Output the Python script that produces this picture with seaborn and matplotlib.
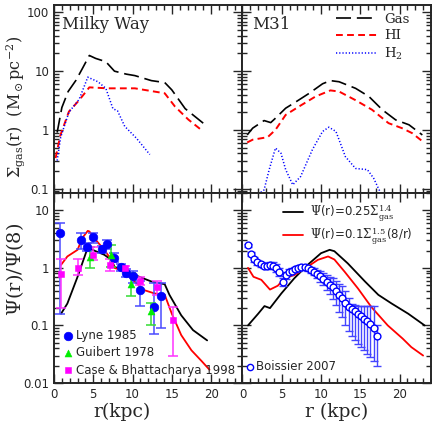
import numpy as np
import pandas as pd
import matplotlib
matplotlib.use("Agg")
import matplotlib.pyplot as plt
import matplotlib.ticker as mticker
import seaborn as sns

# ---- data ----
# Milky Way gas surface densities
mw_gas_r = [0.4, 1.0, 1.8, 2.8, 3.6, 4.5, 5.3, 6.6, 7.7, 9.2, 10.3, 12.4, 14.1, 15.0, 16.7, 19.0]
mw_gas = [0.9, 2.4, 4.5, 7.0, 11.0, 18.5, 16.5, 14.5, 10.0, 8.9, 8.4, 6.9, 6.4, 4.8, 2.3, 1.3]
mw_hi_r = [0.2, 0.8, 1.9, 3.2, 4.5, 6.8, 10.3, 14.1, 15.4, 17.1, 19.0]
mw_hi = [0.33, 0.8, 2.05, 3.2, 5.3, 5.1, 5.1, 4.2, 2.5, 1.5, 0.94]
mw_h2_r = [0.4, 0.85, 1.9, 3.2, 4.3, 5.6, 6.6, 7.5, 8.1, 9.0, 10.5, 12.2]
mw_h2 = [0.3, 0.75, 2.0, 3.3, 7.9, 6.6, 5.1, 2.3, 2.1, 1.15, 0.72, 0.38]

# M31 gas surface densities
m31_gas_r = [0.6, 1.3, 2.75, 3.6, 4.2, 5.5, 6.8, 8.5, 10.2, 11.2, 12.3, 14.4, 16.1, 17.8, 19.5, 21.2, 22.9]
m31_gas = [0.82, 1.07, 1.44, 1.33, 1.58, 2.34, 3.0, 4.2, 6.1, 6.9, 6.6, 5.1, 3.7, 2.2, 1.48, 1.22, 0.82]
m31_hi_r = [0.6, 1.3, 3.2, 4.2, 5.5, 7.2, 9.3, 11.2, 12.3, 14.4, 16.5, 18.6, 20.3, 21.6, 23.1]
m31_hi = [0.61, 0.68, 0.75, 1.0, 1.8, 2.5, 3.7, 4.7, 4.5, 3.2, 2.2, 1.3, 1.07, 0.88, 0.61]
m31_h2_r = [2.0, 2.75, 3.4, 4.2, 4.9, 5.5, 6.4, 7.4, 8.9, 10.2, 11.0, 11.9, 13.1, 14.4, 15.9, 16.7, 17.4, 17.9]
m31_h2 = [0.08, 0.095, 0.21, 0.49, 0.40, 0.21, 0.116, 0.16, 0.46, 0.94, 1.11, 0.94, 0.35, 0.22, 0.21, 0.15, 0.095, 0.075]

# Milky Way model curves Psi(r)/Psi(8)
mw_k14_r = [0.9, 1.7, 3.0, 4.3, 4.9, 6.4, 7.3, 7.7, 8.55, 10.3, 12.4, 14.1, 14.7, 16.2, 17.7, 19.5]
mw_k14 = [0.16, 0.24, 0.70, 2.26, 2.06, 1.69, 1.38, 1.05, 0.92, 0.75, 0.58, 0.52, 0.34, 0.15, 0.083, 0.055]
mw_dyn_r = [0.9, 1.7, 3.0, 3.6, 4.3, 4.5, 5.3, 6.4, 7.3, 7.7, 8.5, 9.8, 11.5, 12.8, 14.1, 15.0, 16.2, 17.5, 18.8, 19.8]
mw_dyn = [1.13, 1.58, 2.06, 3.3, 4.4, 4.3, 3.08, 2.06, 1.38, 1.0, 0.92, 0.66, 0.41, 0.36, 0.34, 0.16, 0.068, 0.037, 0.024, 0.017]

# Milky Way pulsar / SNR tracers
lyne_r = [0.75, 3.5, 4.2, 5.0, 6.1, 6.8, 7.6, 8.5, 9.2, 10.1, 11.0, 12.7, 13.6]
lyne_y = [4.0, 3.0, 2.35, 3.45, 2.1, 2.6, 1.5, 1.02, 0.8, 0.72, 0.41, 0.21, 0.33]
lyne_lo = [0.16, 2.1, 2.0, 2.7, 1.8, 2.1, 1.25, 0.9, 0.7, 0.55, 0.22, 0.07, 0.09]
lyne_hi = [6.0, 4.1, 2.7, 4.1, 2.4, 3.0, 1.8, 1.15, 0.95, 0.9, 0.6, 0.55, 0.55]
gui_r = [4.6, 7.2, 9.8, 12.3]
gui_y = [1.55, 1.7, 0.52, 0.18]
gui_lo = [1.0, 1.05, 0.32, 0.1]
gui_hi = [2.3, 2.45, 0.8, 0.25]
case_r = [0.9, 3.0, 5.0, 7.1, 9.0, 11.0, 13.1, 15.1]
case_y = [0.79, 1.0, 1.68, 1.13, 0.98, 0.6, 0.46, 0.124]
case_lo = [0.2, 0.75, 1.38, 0.9, 0.9, 0.5, 0.34, 0.03]
case_hi = [1.4, 1.45, 2.3, 1.45, 1.1, 0.7, 0.6, 0.21]

# M31 model curves
m31_k14_r = [0.7, 2.0, 2.8, 3.5, 4.95, 6.6, 8.3, 10.0, 11.1, 11.7, 13.4, 15.6, 17.3, 19.0, 21.1, 23.2]
m31_k14 = [0.10, 0.16, 0.217, 0.2, 0.36, 0.66, 1.13, 1.8, 2.06, 1.95, 1.2, 0.58, 0.34, 0.24, 0.16, 0.10]
m31_dyn_r = [0.7, 1.4, 2.4, 3.5, 4.5, 5.35, 6.6, 8.3, 9.6, 10.9, 11.7, 13.0, 14.7, 16.4, 18.5, 20.4, 21.5, 23.0]
m31_dyn = [1.0, 0.7, 0.62, 0.42, 0.49, 0.66, 0.75, 1.05, 1.38, 1.58, 1.4, 0.86, 0.44, 0.21, 0.10, 0.059, 0.042, 0.030]

# Boissier 2007 M31 star formation profile
bo_r = [0.7, 1.1, 1.5, 1.9, 2.3, 2.7, 3.1, 3.5, 3.9, 4.3, 4.7, 5.1, 5.5, 5.9, 6.3, 6.7, 7.1,
        7.5, 7.9, 8.3, 8.7, 9.1, 9.5, 9.9, 10.3, 10.7, 11.1, 11.5, 11.9, 12.3, 12.7, 13.1,
        13.5, 13.9, 14.3, 14.7, 15.1, 15.5, 15.9, 16.3, 16.7, 17.1]
bo_y = [2.45, 1.75, 1.40, 1.25, 1.15, 1.10, 1.08, 1.14, 1.10, 1.00, 0.85, 0.56, 0.74, 0.84, 0.90, 0.95, 0.99,
        1.02, 1.02, 0.98, 0.92, 0.86, 0.79, 0.72, 0.65, 0.58, 0.51, 0.46, 0.40, 0.34, 0.30, 0.25,
        0.21, 0.19, 0.175, 0.16, 0.145, 0.13, 0.118, 0.105, 0.09, 0.066]
bo_lo = [2.3, 1.62, 1.28, 1.12, 1.02, 0.98, 0.95, 1.0, 0.96, 0.86, 0.72, 0.48, 0.64, 0.74, 0.80, 0.85, 0.89,
         0.92, 0.92, 0.88, 0.82, 0.75, 0.67, 0.58, 0.50, 0.42, 0.35, 0.29, 0.23, 0.17, 0.14, 0.10,
         0.08, 0.065, 0.055, 0.048, 0.042, 0.037, 0.032, 0.028, 0.024, 0.02]
bo_hi = [2.6, 1.9, 1.52, 1.38, 1.28, 1.24, 1.22, 1.28, 1.25, 1.15, 0.98, 0.66, 0.85, 0.95, 1.0, 1.05, 1.09,
         1.12, 1.12, 1.08, 1.03, 0.98, 0.92, 0.87, 0.82, 0.76, 0.70, 0.66, 0.60, 0.52, 0.48, 0.40,
         0.30, 0.24, 0.23, 0.22, 0.22, 0.22, 0.22, 0.22, 0.22, 0.10]

sns.set_style("ticks")
plt.rcParams['font.family'] = ['DejaVu Serif']
plt.rcParams['mathtext.fontset'] = 'dejavuserif'

fig = plt.figure(figsize=(4.32, 4.24), dpi=100)
W = 0.4363
ax_tl = fig.add_axes([0.125, 0.5448, W, 0.4434])
ax_tr = fig.add_axes([0.5613, 0.5448, W, 0.4434])
ax_bl = fig.add_axes([0.125, 0.0967, W, 0.4481])
ax_br = fig.add_axes([0.5613, 0.0967, W, 0.4481])

# ---- top panels: gas profiles ----
for ax, rg, g, rh, h, r2, h2 in [(ax_tl, mw_gas_r, mw_gas, mw_hi_r, mw_hi, mw_h2_r, mw_h2),
                                  (ax_tr, m31_gas_r, m31_gas, m31_hi_r, m31_hi, m31_h2_r, m31_h2)]:
    sns.lineplot(x=rg, y=g, ax=ax, color='black', lw=1.2, label='Gas', linestyle=(0, (9, 3.5)))
    sns.lineplot(x=rh, y=h, ax=ax, color='red', lw=1.4, label='HI', linestyle=(0, (3.5, 2.2)))
    sns.lineplot(x=r2, y=h2, ax=ax, color='blue', lw=1.1, label='H$_2$', linestyle=(0, (0.8, 1.3)))
    ax.set_ylim(0.084, 134)

ax_tl.get_legend().remove()
ax_tr.legend(loc='upper left', bbox_to_anchor=(0.47, 0.985), frameon=False, handlelength=3.1,
             handletextpad=0.5, labelspacing=0.25, fontsize=9.5, borderaxespad=0.0)

ax_tl.text(0.04, 0.94, 'Milky Way', transform=ax_tl.transAxes, fontsize=12, va='top')
ax_tr.text(0.05, 0.94, 'M31', transform=ax_tr.transAxes, fontsize=12, va='top')

# ---- bottom-left: Milky Way SFR ----
ax = ax_bl
sns.lineplot(x=mw_k14_r, y=mw_k14, ax=ax, color='black', lw=1.3)
sns.lineplot(x=mw_dyn_r, y=mw_dyn, ax=ax, color='red', lw=1.3)
for r, y, lo, hi, c in [(lyne_r, lyne_y, lyne_lo, lyne_hi, '#4a4aff'),
                        (gui_r, gui_y, gui_lo, gui_hi, '#33dd33'),
                        (case_r, case_y, case_lo, case_hi, '#ff33ff')]:
    yerr = [np.array(y) - np.array(lo), np.array(hi) - np.array(y)]
    ax.errorbar(r, y, yerr=yerr, fmt='none', ecolor=c, elinewidth=1.1, capsize=3.5, capthick=1.1)
sns.scatterplot(x=lyne_r, y=lyne_y, ax=ax, color='blue', marker='o', s=38, edgecolor='blue',
                label='Lyne 1985', zorder=5)
sns.scatterplot(x=gui_r, y=gui_y, ax=ax, color='#00ee00', marker='^', s=25, edgecolor='#00ee00',
                label='Guibert 1978', zorder=5)
sns.scatterplot(x=case_r, y=case_y, ax=ax, color='magenta', marker='s', s=25, edgecolor='magenta',
                label='Case & Bhattacharya 1998', zorder=5)
ax.legend(loc='lower left', frameon=False, handletextpad=0.1, labelspacing=0.35,
          borderaxespad=0.15, handlelength=1.2, prop={'family': 'DejaVu Sans', 'size': 8.5})

# ---- bottom-right: M31 SFR ----
ax = ax_br
sns.lineplot(x=m31_k14_r, y=m31_k14, ax=ax, color='black', lw=1.3,
             label=r'$\Psi$(r)=0.25$\Sigma_{\rm gas}^{1.4}$')
sns.lineplot(x=m31_dyn_r, y=m31_dyn, ax=ax, color='red', lw=1.3,
             label=r'$\Psi$(r)=0.1$\Sigma_{\rm gas}^{1.5}$(8/r)')
yerr = [np.array(bo_y) - np.array(bo_lo), np.array(bo_hi) - np.array(bo_y)]
ax.errorbar(bo_r, bo_y, yerr=yerr, fmt='none', ecolor='#4444ff', elinewidth=1.0, capsize=3, capthick=1.0)
bo = pd.DataFrame({'r': bo_r, 'y': bo_y})
sns.scatterplot(data=bo, x='r', y='y', ax=ax, marker='o', s=24, facecolor='white',
                edgecolor='blue', linewidth=1.0, zorder=5)
h, l = ax.get_legend_handles_labels()
ax.legend(h[:2], l[:2], loc='upper left', bbox_to_anchor=(0.19, 0.975), frameon=False,
          handlelength=1.7, handletextpad=0.6, labelspacing=0.15, borderaxespad=0.0,
          prop={'family': 'DejaVu Sans', 'size': 8.5})
ax.text(0.072, 0.019, 'Boissier 2007', transform=ax.get_yaxis_transform(), fontsize=8.5,
        family='DejaVu Sans', va='center')
ax.plot([0.95], [0.019], 'o', ms=4.5, mfc='white', mec='blue', mew=1.0, clip_on=False)

for a in (ax_bl, ax_br):
    a.set_ylim(0.01, 20)

# ---- axes styling ----
fmt = mticker.FuncFormatter(lambda v, p: f"{v:g}")
for a in (ax_tl, ax_tr, ax_bl, ax_br):
    a.set_yscale('log')
    a.set_xlim(0, 24)
    a.xaxis.set_major_locator(mticker.MultipleLocator(5))
    a.xaxis.set_minor_locator(mticker.MultipleLocator(1))
    a.yaxis.set_major_locator(mticker.LogLocator(base=10))
    a.yaxis.set_minor_locator(mticker.LogLocator(base=10, subs=np.arange(2, 10)))
    a.yaxis.set_major_formatter(fmt)
    a.yaxis.set_minor_formatter(mticker.NullFormatter())
    a.tick_params(which='both', direction='in', top=True, right=True, labelfontfamily='DejaVu Sans',
                  labelsize=8.5, width=1.0)
    a.tick_params(which='major', length=6.5)
    a.tick_params(which='minor', length=3.5)
    for s in a.spines.values():
        s.set_linewidth(1.4)
    a.set_xlabel('')
    a.set_ylabel('')

ax_tl.tick_params(labelbottom=False)
ax_tr.tick_params(labelbottom=False, labelleft=False)
ax_br.tick_params(labelleft=False)

ax_tl.set_ylabel(r'$\Sigma_{\rm gas}$(r)  (M$_\odot$pc$^{-2}$)', fontsize=11.5)
ax_tl.yaxis.set_label_coords(-0.145, 0.46)
ax_bl.set_ylabel(r'$\Psi$(r)/$\Psi$(8)', fontsize=14)
ax_bl.yaxis.set_label_coords(-0.15, 0.6)
ax_bl.set_xlabel('r(kpc)', fontsize=13.5)
ax_bl.xaxis.set_label_coords(0.36, -0.105)
ax_br.set_xlabel('r (kpc)', fontsize=13.5)
ax_br.xaxis.set_label_coords(0.5, -0.105)

fig.savefig('out.png', dpi=100)
